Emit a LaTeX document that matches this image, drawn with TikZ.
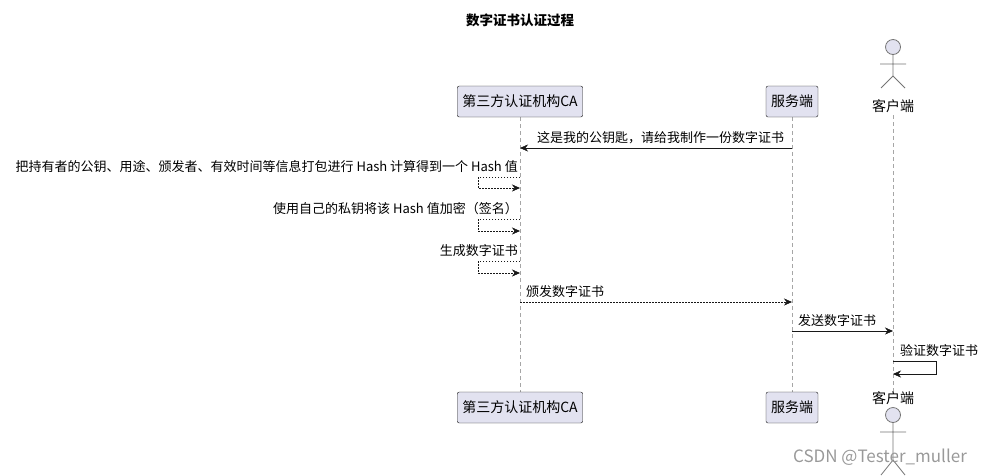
\documentclass[tikz,border=0pt]{standalone}
\usepackage{fontspec}
\setmainfont{Noto Sans CJK SC}
\usetikzlibrary{arrows.meta}
\definecolor{boxfill}{HTML}{E2E2F0}
\definecolor{boxline}{HTML}{181818}
\begin{document}
\begin{tikzpicture}[x=1pt,y=-1pt,
  part/.style={draw=boxline,fill=boxfill,rounded corners=2pt,minimum height=31pt,inner xsep=5pt,font=\fontsize{14}{16}\selectfont},
  life/.style={draw=gray!70,dashed,dash pattern=on 4pt off 3pt},
  msg/.style={draw=boxline,-{Stealth[length=8pt,width=7pt]}},
  dmsg/.style={msg,dash pattern=on 1.5pt off 1.5pt},
  lbl/.style={font=\fontsize{13}{15}\selectfont,inner sep=1pt},
  actorline/.style={draw=boxline!60,line width=0.8pt}]
\path[use as bounding box] (0,0) rectangle (988,475);
\node[font=\bfseries\fontsize{13.5}{15}\selectfont] (title) at (520,20) {数字证书认证过程};
% lifelines
\draw[life] (520,117) -- (520,392);
\draw[life] (792,117) -- (792,392);
\draw[life] (893,115) -- (893,392);
% participants
\node[part] (ca) at (520,101.5) {第三方认证机构CA};
\node[part] (srv) at (792,101.5) {服务端};
\node[part] (ca2) at (520,407.5) {第三方认证机构CA};
\node[part] (srv2) at (792,407.5) {服务端};
% actor top
\draw[actorline,fill=boxfill] (893,47) circle (7.5);
\draw[actorline] (893,55) -- (893,76) (880,64) -- (906,64) (881,88) -- (893,76) -- (905,88);
\node[lbl,font=\fontsize{14}{16}\selectfont] (cl) at (893,106) {客户端};
% actor bottom
\draw[actorline,fill=boxfill] (893,415) circle (7.5);
\draw[actorline] (893,423) -- (893,460) (880,432) -- (906,432) (881,475) -- (893,460) -- (905,475);
\node[lbl,font=\fontsize{14}{16}\selectfont] (cl2) at (893,398) {客户端};
\coordinate (s1) at (792,148); \coordinate (c1) at (520,148);
\draw[msg] (s1) -- (c1);
\node[lbl,anchor=south west] (m1) at (536,145) {这是我的公钥匙，请给我制作一份数字证书};
\coordinate (a1) at (520,177); \coordinate (b1) at (520,188);
\draw[dmsg] (a1) -- (478,177) -- (478,188) -- (b1);
\node[lbl,anchor=south east] (m2) at (519,174) {把持有者的公钥、用途、颁发者、有效时间等信息打包进行 Hash 计算得到一个 Hash 值};
\coordinate (a2) at (520,219); \coordinate (b2) at (520,231);
\draw[dmsg] (a2) -- (478,219) -- (478,231) -- (b2);
\node[lbl,anchor=south east] (m3) at (519,216) {使用自己的私钥将该 Hash 值加密（签名）};
\coordinate (a3) at (520,261); \coordinate (b3) at (520,273);
\draw[dmsg] (a3) -- (478,261) -- (478,273) -- (b3);
\node[lbl,anchor=south east] (m4) at (519,258) {生成数字证书};
\coordinate (a4) at (520,302); \coordinate (b4) at (792,302);
\draw[dmsg] (a4) -- (b4);
\node[lbl,anchor=south west] (m5) at (525,299) {颁发数字证书};
\coordinate (a5) at (792,331); \coordinate (b5) at (893,331);
\draw[msg] (a5) -- (b5);
\node[lbl,anchor=south west] (m6) at (797,328) {发送数字证书};
\coordinate (a6) at (893,361); \coordinate (b6) at (893,374);
\draw[msg] (a6) -- (936,361) -- (936,374) -- (b6);
\node[lbl,anchor=south west] (m7) at (899,358) {验证数字证书};
\node[font=\fontsize{17}{19}\selectfont,text=gray!80] (wm) at (880,457) {CSDN @Tester\_muller};
\end{tikzpicture}
\end{document}
